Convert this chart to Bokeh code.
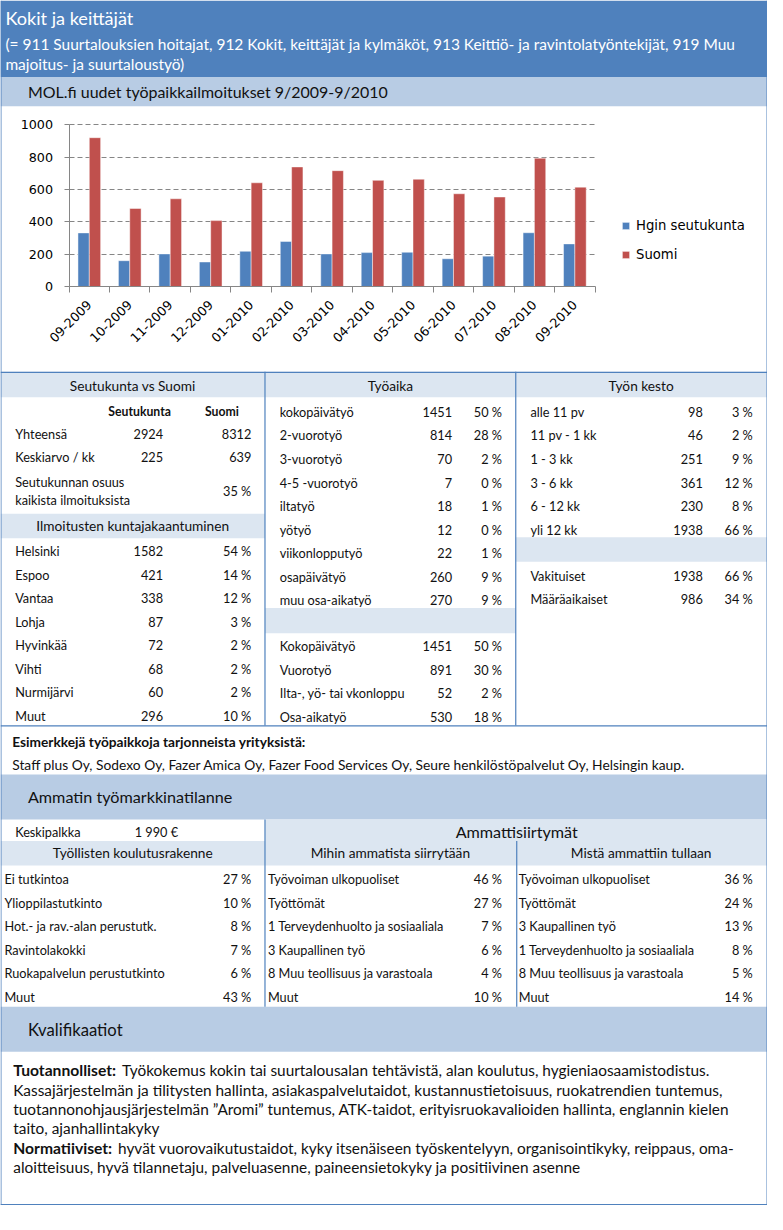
import math
from bokeh.plotting import figure
from bokeh.models import (Range1d, FixedTicker, Legend, LegendItem, ColumnDataSource,
                          LinearAxis, Grid)
from bokeh.transform import dodge
from bokeh.core.properties import value
from bokeh.embed import file_html
from bokeh.resources import INLINE

# ---------------- data ----------------
months = ["09-2009", "10-2009", "11-2009", "12-2009", "01-2010", "02-2010", "03-2010",
          "04-2010", "05-2010", "06-2010", "07-2010", "08-2010", "09-2010"]
hgin = [332, 160, 202, 152, 218, 279, 202, 210, 212, 172, 188, 333, 264]
suomi = [921, 483, 543, 408, 642, 740, 717, 657, 664, 574, 554, 794, 615]
series_names = ["Hgin seutukunta", "Suomi"]
y_ticks = [0, 200, 400, 600, 800, 1000]

title = "Kokit ja keittäjät"
subtitle_lines = [
    "(= 911 Suurtalouksien hoitajat, 912 Kokit, keittäjät ja kylmäköt, 913 Keittiö- ja ravintolatyöntekijät, 919 Muu",
    "majoitus- ja suurtaloustyö)",
]
chart_title = "MOL.fi uudet työpaikkailmoitukset 9/2009-9/2010"

summary_header = "Seutukunta vs Suomi"
summary_cols = ["Seutukunta", "Suomi"]
summary_rows = ["Yhteensä", "Keskiarvo / kk"]
summary_seutu = [2924, 225]
summary_suomi = [8312, 639]
share_label = ["Seutukunnan osuus", "kaikista ilmoituksista"]
share_pct = 35

kunta_header = "Ilmoitusten kuntajakaantuminen"
kunta_names = ["Helsinki", "Espoo", "Vantaa", "Lohja", "Hyvinkää", "Vihti", "Nurmijärvi", "Muut"]
kunta_counts = [1582, 421, 338, 87, 72, 68, 60, 296]
kunta_pct = [54, 14, 12, 3, 2, 2, 2, 10]

tyoaika_header = "Työaika"
tyoaika_labels = ["kokopäivätyö", "2-vuorotyö", "3-vuorotyö", "4-5 -vuorotyö", "iltatyö", "yötyö",
                  "viikonlopputyö", "osapäivätyö", "muu osa-aikatyö"]
tyoaika_counts = [1451, 814, 70, 7, 18, 12, 22, 260, 270]
tyoaika_pct = [50, 28, 2, 0, 1, 0, 1, 9, 9]
tyoaika2_labels = ["Kokopäivätyö", "Vuorotyö", "Ilta-, yö- tai vkonloppu", "Osa-aikatyö"]
tyoaika2_counts = [1451, 891, 52, 530]
tyoaika2_pct = [50, 30, 2, 18]

kesto_header = "Työn kesto"
kesto_labels = ["alle 11 pv", "11 pv - 1 kk", "1 - 3 kk", "3 - 6 kk", "6 - 12 kk", "yli 12 kk"]
kesto_counts = [98, 46, 251, 361, 230, 1938]
kesto_pct = [3, 2, 9, 12, 8, 66]
kesto2_labels = ["Vakituiset", "Määräaikaiset"]
kesto2_counts = [1938, 986]
kesto2_pct = [66, 34]

employers_title = "Esimerkkejä työpaikkoja tarjonneista yrityksistä:"
employers = ("Staff plus Oy, Sodexo Oy, Fazer Amica Oy, Fazer Food Services Oy, "
             "Seure henkilöstöpalvelut Oy, Helsingin kaup.")

market_title = "Ammatin työmarkkinatilanne"
salary_label = "Keskipalkka"
salary = "1 990 €"
koulutus_header = "Työllisten koulutusrakenne"
koulutus_labels = ["Ei tutkintoa", "Ylioppilastutkinto", "Hot.- ja rav.-alan perustutk.",
                   "Ravintolakokki", "Ruokapalvelun perustutkinto", "Muut"]
koulutus_pct = [27, 10, 8, 7, 6, 43]
siirto_header = "Ammattisiirtymät"
mihin_header = "Mihin ammatista siirrytään"
mihin_labels = ["Työvoiman ulkopuoliset", "Työttömät", "1 Terveydenhuolto ja sosiaaliala",
                "3 Kaupallinen työ", "8 Muu teollisuus ja varastoala", "Muut"]
mihin_pct = [46, 27, 7, 6, 4, 10]
mista_header = "Mistä ammattiin tullaan"
mista_labels = ["Työvoiman ulkopuoliset", "Työttömät", "3 Kaupallinen työ",
                "1 Terveydenhuolto ja sosiaaliala", "8 Muu teollisuus ja varastoala", "Muut"]
mista_pct = [36, 24, 13, 8, 5, 14]

qual_title = "Kvalifikaatiot"
qual_lines = [
    ("Tuotannolliset:", "Työkokemus kokin tai suurtalousalan tehtävistä, alan koulutus, hygieniaosaamistodistus."),
    ("", "Kassajärjestelmän ja tilitysten hallinta, asiakaspalvelutaidot, kustannustietoisuus, ruokatrendien tuntemus,"),
    ("", "tuotannonohjausjärjestelmän ”Aromi” tuntemus, ATK-taidot, erityisruokavalioiden hallinta, englannin kielen"),
    ("", "taito, ajanhallintakyky"),
    ("Normatiiviset:", "hyvät vuorovaikutustaidot, kyky itsenäiseen työskentelyyn, organisointikyky, reippaus, oma-"),
    ("", "aloitteisuus, hyvä tilannetaju, palveluasenne, paineensietokyky ja positiivinen asenne"),
]

# ---------------- style / layout constants (reference pixel space) ----------------
REF_W, REF_H = 783, 1230
W = 767
S = W / REF_W
H = round(REF_H * S)
SY = H / REF_H
BLUE = "#4F81BD"
RED = "#C0504D"
LIGHT = "#B8CCE4"
PALE = "#DCE6F1"
GRAY = "#868686"
TXT = "#111111"
BODY = "Lato"
CHART_FONT = "DejaVu Sans"

# chart placement inside the page (reference pixels)
CH_X0 = 70            # x of the value axis
CH_CAT = 537 / 13     # width of one month slot
CH_Y0 = 292           # y of value 0
CH_PPU = 165 / 1000   # pixels per unit


def fs(px):
    return f"{px * S:.2f}px"


p = figure(width=W, height=H, x_range=Range1d(0, REF_W), y_range=Range1d(REF_H, 0),
           x_axis_type=None, y_axis_type=None, output_backend="svg",
           toolbar_location=None, min_border=0, outline_line_color=None)
p.grid.visible = False
p.background_fill_color = "white"
p.border_fill_color = "white"


def box(l, r, t, b, color):
    p.quad(left=[l], right=[r], top=[t], bottom=[b], fill_color=color, line_color=None)


def txt(xs, ys, texts, size, align="left", bold=False, color=TXT, font=BODY):
    p.text(x=xs, y=ys, text=texts, text_font=value(font), text_font_size=fs(size),
           text_align=align, text_baseline="middle", text_color=color,
           text_font_style="bold" if bold else "normal")


def pct(vals):
    return [f"{v} %" for v in vals]


# ---------------- header ----------------
box(0, REF_W, 0, 78, BLUE)
box(0, REF_W, 78, 108, LIGHT)
txt([5], [18], [title], 18.5, color="white")
txt([5, 5], [44, 65], subtitle_lines, 15.8, color="white")
txt([28], [93], [chart_title], 16.3)

# ---------------- chart ----------------
n = len(months)
p.extra_x_ranges = {"cx": Range1d(-CH_X0 / CH_CAT, (REF_W - CH_X0) / CH_CAT)}
p.extra_y_ranges = {"cy": Range1d((CH_Y0 - REF_H) / CH_PPU, CH_Y0 / CH_PPU)}

src = ColumnDataSource(dict(x=[i + 0.5 for i in range(n)], month=months,
                            hgin=hgin, suomi=suomi))
r1 = p.vbar(x=dodge("x", -0.14), top="hgin", bottom=0, width=0.28, source=src,
            x_range_name="cx", y_range_name="cy",
            fill_color=BLUE, line_color="white", line_alpha=0.45)
r2 = p.vbar(x=dodge("x", 0.14), top="suomi", bottom=0, width=0.28, source=src,
            x_range_name="cx", y_range_name="cy",
            fill_color=RED, line_color="white", line_alpha=0.45)

grid_ok = False
try:
    gr = Grid(dimension=1, ticker=FixedTicker(ticks=y_ticks[1:]),
              x_range_name="cx", y_range_name="cy", cross_bounds=(0, n),
              grid_line_color=GRAY, grid_line_dash="5 3", grid_line_width=1)
    p.add_layout(gr)
    grid_ok = True
except Exception:
    grid_ok = False
if not grid_ok:
    gy = y_ticks[1:]
    p.segment(x0=[0] * len(gy), x1=[n] * len(gy), y0=gy, y1=gy,
              x_range_name="cx", y_range_name="cy",
              line_color=GRAY, line_dash="5 3", line_width=1)

xa = LinearAxis(x_range_name="cx", y_range_name="cy", fixed_location=0)
xa.ticker = FixedTicker(ticks=[i + 0.5 for i in range(n)], minor_ticks=list(range(n + 1)))
xa.major_label_overrides = {i + 0.5: m for i, m in enumerate(months)}
xa.bounds = (0, n)
xa.major_tick_out = 0
xa.major_tick_in = 0
xa.minor_tick_out = 6
xa.minor_tick_in = 0
xa.minor_tick_line_color = GRAY
xa.axis_line_color = GRAY
xa.major_label_orientation = math.pi / 4
xa.major_label_standoff = 10
xa.major_label_text_font = CHART_FONT
xa.major_label_text_font_size = fs(13)
xa.major_label_text_color = "black"
p.add_layout(xa, "below")

ya = LinearAxis(x_range_name="cx", y_range_name="cy", fixed_location=0)
ya.ticker = FixedTicker(ticks=y_ticks)
ya.bounds = (y_ticks[0], y_ticks[-1])
ya.major_tick_out = 5
ya.major_tick_in = 0
ya.major_tick_line_color = GRAY
ya.minor_tick_line_color = None
ya.axis_line_color = GRAY
ya.major_label_standoff = 11
ya.major_label_text_font = CHART_FONT
ya.major_label_text_font_size = fs(13)
ya.major_label_text_color = "black"
p.add_layout(ya, "left")

LEG_ROW, LEG_SP = 20, 9
leg_top = 230 * SY - LEG_ROW / 2
leg_bottom = leg_top + 2 * LEG_ROW + LEG_SP
legend = Legend(items=[LegendItem(label=series_names[0], renderers=[r1]),
                       LegendItem(label=series_names[1], renderers=[r2])],
                location=(round(634 * S), round(H - leg_bottom)), orientation="vertical",
                border_line_color=None, background_fill_alpha=0, padding=0, margin=0,
                spacing=LEG_SP, glyph_width=9, glyph_height=9, label_height=LEG_ROW,
                label_standoff=6, label_text_font=CHART_FONT, label_text_font_size=fs(13.5),
                label_text_color="black")
p.add_layout(legend)

# ---------------- tables ----------------
ROW = 24
box(0, REF_W, 379, 405, PALE)
box(0, 270, 524, 549, PALE)
box(270, 526, 620, 646, PALE)
box(526, REF_W, 548, 573, PALE)
box(0, REF_W, 790, 836, LIGHT)
box(270, REF_W, 836, 883, PALE)
box(0, 270, 858, 883, PALE)
box(0, REF_W, 1027, 1073, LIGHT)
p.segment(x0=[0, 0, 270, 526, 270, 527], x1=[REF_W, REF_W, 270, 526, 270, 527],
          y0=[379.5, 740.5, 379, 379, 836, 858], y1=[379.5, 740.5, 740, 740, 1027, 1027],
          line_color=BLUE, line_width=1.2)
# page frame
box(0, 1, 0, REF_H, BLUE)
box(782, REF_W, 0, REF_H, BLUE)
box(0, REF_W, 1228.5, REF_H, BLUE)

HS = 14      # band header size
RS = 13      # row size
BS = 12.5    # bold column header size

# column 1
txt([135], [393], [summary_header], HS, align="center")
txt([142, 226], [420, 420], summary_cols, BS, align="center", bold=True)
ys = [442 + ROW * i for i in range(len(summary_rows))]
txt([15] * len(ys), ys, summary_rows, RS)
txt([166] * len(ys), ys, [str(v) for v in summary_seutu], RS, align="right")
txt([256] * len(ys), ys, [str(v) for v in summary_suomi], RS, align="right")
txt([15, 15], [491, 510], share_label, RS)
txt([256], [501], [f"{share_pct} %"], RS, align="right")
txt([135], [536], [kunta_header], HS, align="center")
ys = [562 + ROW * i for i in range(len(kunta_names))]
txt([15] * len(ys), ys, kunta_names, RS)
txt([166] * len(ys), ys, [str(v) for v in kunta_counts], RS, align="right")
txt([256] * len(ys), ys, pct(kunta_pct), RS, align="right")

# column 2
txt([398], [393], [tyoaika_header], HS, align="center")
ys = [420 + ROW * i for i in range(len(tyoaika_labels))]
txt([285] * len(ys), ys, tyoaika_labels, RS)
txt([461] * len(ys), ys, [str(v) for v in tyoaika_counts], RS, align="right")
txt([512] * len(ys), ys, pct(tyoaika_pct), RS, align="right")
ys = [659 + ROW * i for i in range(len(tyoaika2_labels))]
txt([285] * len(ys), ys, tyoaika2_labels, RS)
txt([461] * len(ys), ys, [str(v) for v in tyoaika2_counts], RS, align="right")
txt([512] * len(ys), ys, pct(tyoaika2_pct), RS, align="right")

# column 3
txt([654], [393], [kesto_header], HS, align="center")
ys = [420 + ROW * i for i in range(len(kesto_labels))]
txt([541] * len(ys), ys, kesto_labels, RS)
txt([717] * len(ys), ys, [str(v) for v in kesto_counts], RS, align="right")
txt([768] * len(ys), ys, pct(kesto_pct), RS, align="right")
ys = [587 + ROW * i for i in range(len(kesto2_labels))]
txt([541] * len(ys), ys, kesto2_labels, RS)
txt([717] * len(ys), ys, [str(v) for v in kesto2_counts], RS, align="right")
txt([768] * len(ys), ys, pct(kesto2_pct), RS, align="right")

# employers
txt([12], [756], [employers_title], 14, bold=True)
txt([12], [780], [employers], 14.1)

# market situation
txt([28], [813], [market_title], 16.5)
txt([15], [849], [salary_label], RS)
txt([137], [849], [salary], RS)
txt([135], [870], [koulutus_header], HS, align="center")
txt([527], [848], [siirto_header], 16.5, align="center")
txt([398], [870], [mihin_header], HS, align="center")
txt([654], [870], [mista_header], HS, align="center")
ys = [897 + ROW * i for i in range(len(koulutus_labels))]
txt([4] * len(ys), ys, koulutus_labels, RS)
txt([256] * len(ys), ys, pct(koulutus_pct), RS, align="right")
txt([273] * len(ys), ys, mihin_labels, RS)
txt([512] * len(ys), ys, pct(mihin_pct), RS, align="right")
txt([529] * len(ys), ys, mista_labels, RS)
txt([768] * len(ys), ys, pct(mista_pct), RS, align="right")

# qualifications
txt([28], [1051], [qual_title], 17)
QS = 15.7
qy = [1092, 1112, 1131, 1151, 1171, 1191]
for (b, t), y in zip(qual_lines, qy):
    if b:
        txt([13], [y], [b], 16, bold=True)
        txt([124 if b.startswith("T") else 120], [y], [t], QS)
    else:
        txt([13], [y], [t], QS)

open("out.html", "w").write(file_html(p, INLINE, "Kokit ja keittäjät"))
